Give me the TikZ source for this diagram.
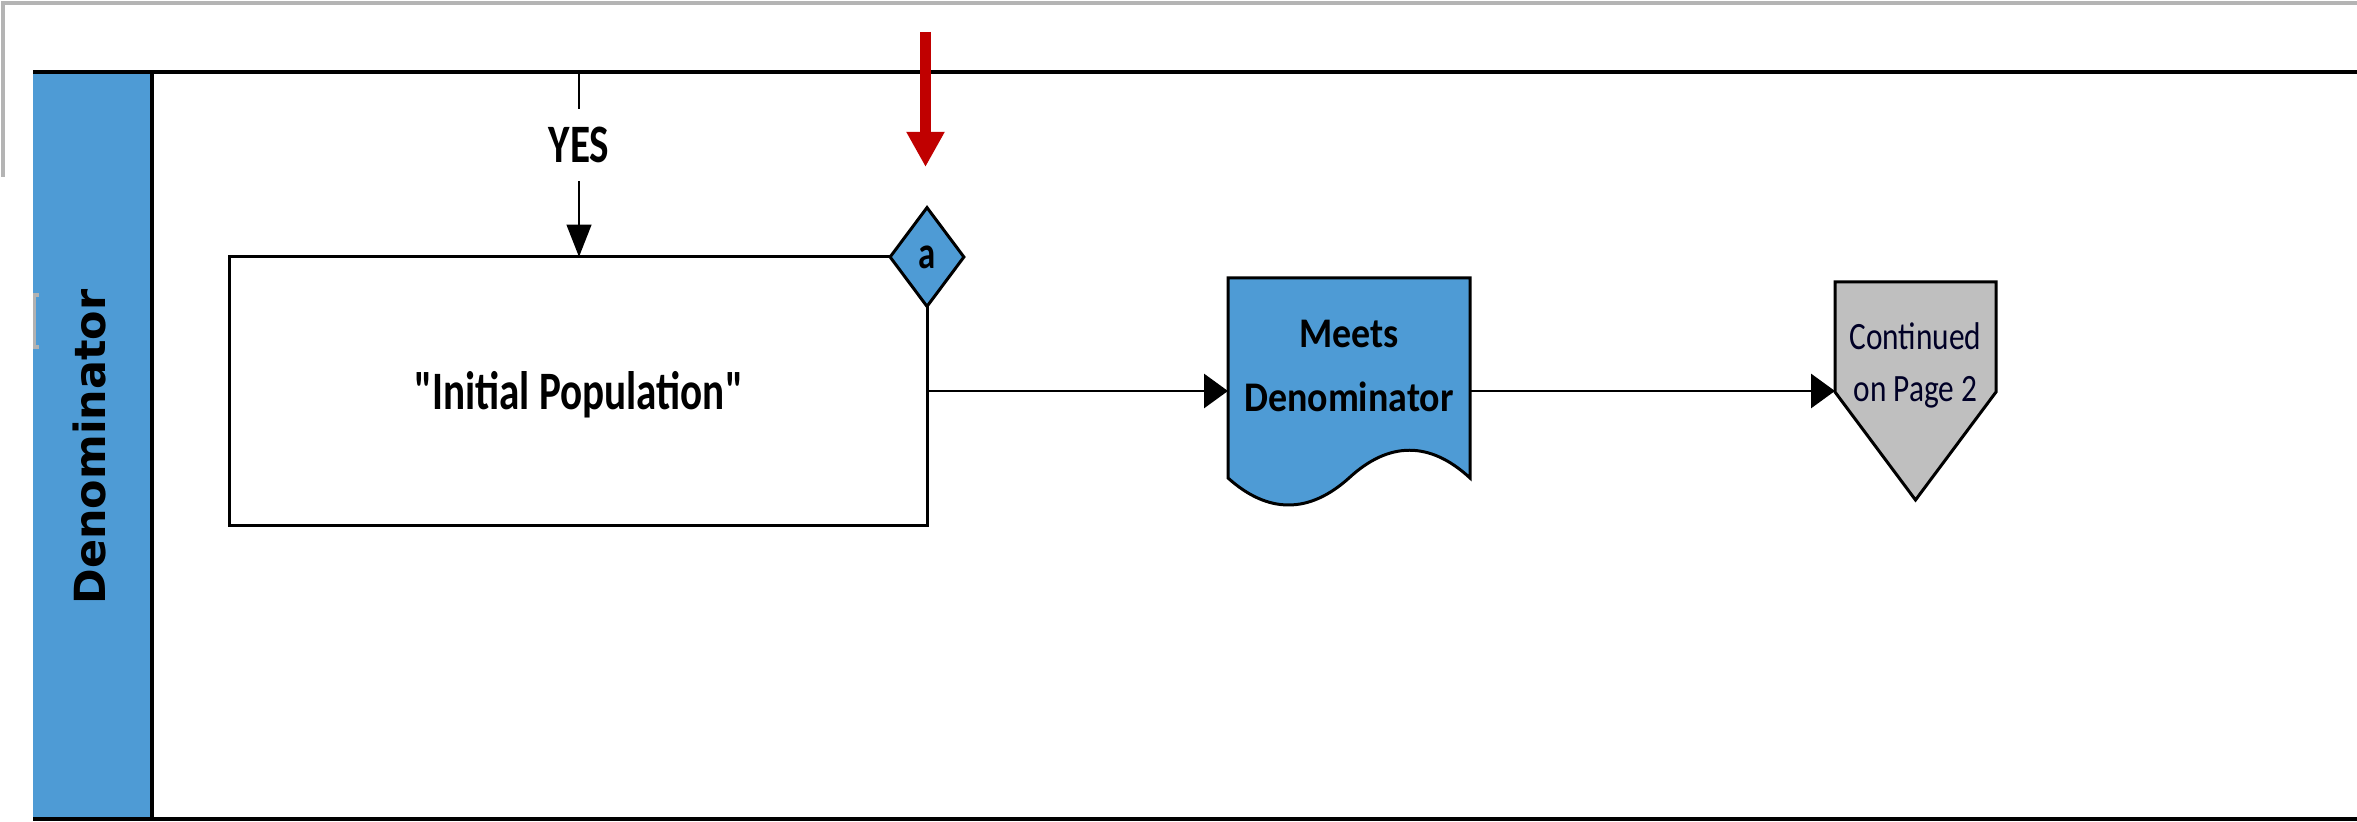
\documentclass[tikz,border=0pt]{standalone}
\usepackage{fontspec}
\setmainfont{Carlito}
\newfontfamily\procfont[FakeStretch=0.76]{Carlito}
\newfontfamily\docfont[FakeStretch=0.9]{Carlito}
\newfontfamily\pagefont[FakeStretch=0.81]{Carlito}
\newfontfamily\lanefont{DejaVu Sans}
\usetikzlibrary{arrows.meta,shapes.geometric}
\definecolor{laneblue}{RGB}{78,155,213}
\definecolor{framegray}{RGB}{180,180,180}
\definecolor{pagegray}{RGB}{191,191,191}
\definecolor{alertred}{RGB}{192,0,0}
\tikzset{
  outline/.style={draw=black, line width=0.85pt, line join=miter},
  flow/.style={draw=black, line width=0.75pt, -{Triangle[length=6.8pt,width=9.7pt]}},
  flowdown/.style={draw=black, line width=0.75pt, -{Triangle[length=9.2pt,width=7pt]}},
  laneline/.style={draw=black, line width=1pt},
  plain/.style={inner sep=0pt, outer sep=0pt, align=center},
}
\begin{document}
\begin{tikzpicture}[x=0.01cm, y=-0.01cm]
\useasboundingbox (0,0) rectangle (2357,822);
\fill[white] (0,0) rectangle (2357,822);

% outer page frame (top and left edge only)
\draw[framegray, line width=0.9pt] (3,177) -- (3,3) -- (2357,3);

% swimlane
\fill[laneblue] (33,72) rectangle (152,819);
\draw[laneline] (33,72) -- (2357,72);
\draw[laneline] (33,819) -- (2357,819);
\draw[laneline] (152,72) -- (152,819);
\node[plain, rotate=90, font=\lanefont\bfseries\fontsize{12.2}{14}\selectfont] (lane) at (90,447) {Denominator};
\draw[gray!60, line width=1.1pt] (39,295) -- (34.5,295) -- (34.5,347) -- (39,347);

% process box (label baseline set a little below the centre)
\node[outline, plain, minimum width=6.97cm, minimum height=2.68cm,
      font=\procfont\bfseries\fontsize{15.4}{18}\selectfont] (init) at (578.5,391) {\raisebox{-5.4pt}[0pt][0pt]{"Initial Population"}};

% connector marker on the box corner
\node[diamond, draw=black, line width=0.85pt, fill=laneblue, inner sep=0pt,
      minimum width=0.75cm, minimum height=1.0cm,
      font=\procfont\bfseries\fontsize{13}{15}\selectfont] (mark) at (927,257) {a};

% incoming YES branch
\coordinate (yestop) at (579,72);
\node[plain, minimum height=0.72cm, font=\procfont\bfseries\fontsize{15.4}{18}\selectfont] (yes) at (579,145) {YES};
\draw[draw=black, line width=0.75pt] (yestop) -- (yes.north);
\draw[flowdown] (yes.south) -- (yes.south |- init.north);

% red pointer arrow
\coordinate (redtail) at (925.5,32);
\coordinate (redtip) at (925.5,167);
\draw[alertred, line width=3.1pt, -{Triangle[length=10pt,width=10.2pt]}] (redtail) -- (redtip);

% document shape
\filldraw[outline, fill=laneblue]
  (1228,278) -- (1470,278) -- (1470,478)
  .. controls (1430,441) and (1389,441) .. (1349,478)
  .. controls (1309,514) and (1268,514) .. (1228,478) -- cycle;
\node[plain, minimum width=2.42cm, font=\docfont\bfseries\fontsize{12}{18.2}\selectfont] (doc) at (1349,366) {Meets\\Denominator};

% off-page connector
\filldraw[outline, fill=pagegray]
  (1835,282) -- (1996,282) -- (1996,392) -- (1915.5,500) -- (1835,392) -- cycle;
\node[plain, minimum width=1.61cm, font=\pagefont\fontsize{11}{14.8}\selectfont, text=black!85!blue] (page) at (1915.5,365) {Continued\\on Page 2};

% main flow
\draw[flow] (init.east) -- (init.east -| doc.west);
\draw[flow] (doc.east |- init.east) -- (init.east -| page.west);
\end{tikzpicture}
\end{document}
